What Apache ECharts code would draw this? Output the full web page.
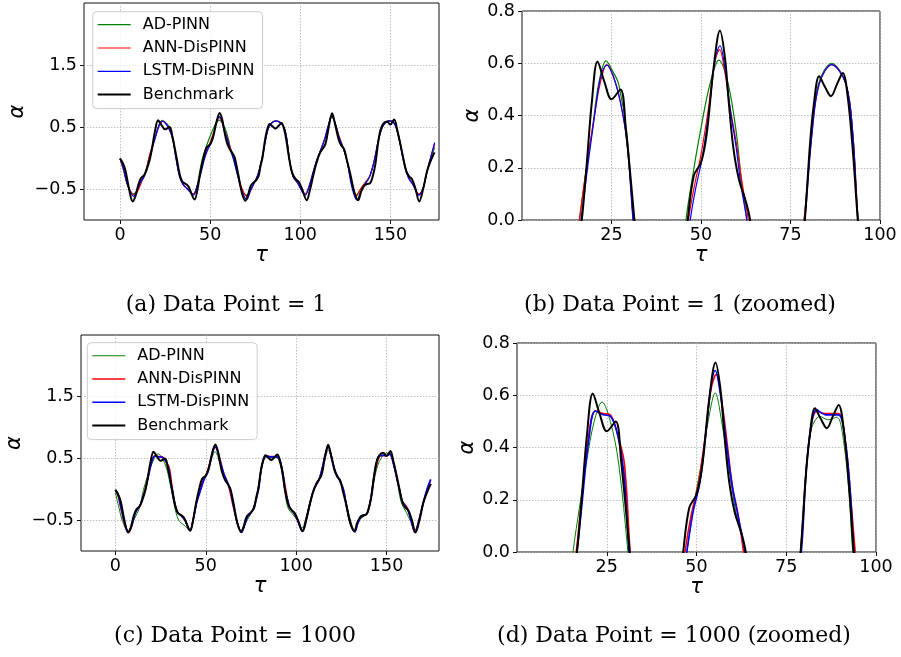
<!DOCTYPE html>
<html><head><meta charset="utf-8">
<script src="https://cdn.jsdelivr.net/npm/echarts@6/dist/echarts.min.js"></script>
<style>html,body{margin:0;padding:0;background:#fff}#c{width:901px;height:657px}</style>
</head><body><div id="c"></div>
<script>
const seriesNames = ['AD-PINN', 'ANN-DisPINN', 'LSTM-DisPINN', 'Benchmark'];
const captions = ['(a) Data Point = 1', '(b) Data Point = 1 (zoomed)', '(c) Data Point = 1000', '(d) Data Point = 1000 (zoomed)'];
const xTicksFull = [0, 50, 100, 150];
const yTicksFull = [-0.5, 0.5, 1.5];
const xTicksZoom = [25, 50, 75, 100];

// Benchmark (same reference solution in both rows)
const benchmark = [[0,-0.01],[1.5,-0.08],[3,-0.2],[5,-0.5],[7,-0.70],[8.5,-0.62],[10,-0.45],[11.5,-0.33],[13.5,-0.27],[15,-0.17],[16.7,0.0],[18,0.2],[19.5,0.45],[21.1,0.607],[23,0.53],[25,0.462],[27.5,0.50],[29,0.35],[31.4,0.0],[33,-0.25],[34.5,-0.38],[36.5,-0.42],[38,-0.46],[41.4,-0.67],[43,-0.50],[44.4,-0.26],[46.3,0.0],[48,0.17],[50,0.22],[51.6,0.33],[53.5,0.58],[55.3,0.725],[56.7,0.62],[57.7,0.46],[59,0.28],[60.6,0.155],[62.5,0.072],[63.7,0.0],[65.5,-0.25],[67.5,-0.55],[69.5,-0.69],[71,-0.6],[72.5,-0.45],[74,-0.40],[75.5,-0.36],[76.9,-0.29],[78,-0.12],[79,0.0],[80.5,0.3],[81.5,0.44],[83.0,0.55],[84.6,0.51],[86.3,0.474],[88,0.52],[89.6,0.563],[91,0.47],[92.5,0.25],[93.8,0.0],[95,-0.18],[96.3,-0.29],[97.8,-0.35],[99.1,-0.38],[101,-0.5],[103.6,-0.68],[105.5,-0.5],[107.4,-0.26],[109,-0.08],[111.1,0.09],[113.9,0.22],[115.8,0.5],[117.7,0.72],[119.3,0.55],[121.3,0.30],[122.8,0.2],[124.4,0.14],[126,-0.05],[127.8,-0.26],[130,-0.55],[132.2,-0.68],[133.7,-0.55],[135.4,-0.45],[137,-0.42],[138.7,-0.41],[140.2,-0.3],[141.7,-0.10],[143,0.2],[144.4,0.44],[146,0.55],[148.1,0.59],[150,0.54],[152.1,0.62],[153.8,0.45],[155.6,0.22],[157.3,-0.02],[158.9,-0.22],[160.5,-0.3],[162,-0.34],[164,-0.5],[166,-0.7],[168.2,-0.5],[170.4,-0.21],[172.5,-0.04],[174.5,0.09]];

// Data Point = 1
const adPinn1 = [[0,-0.01],[2,-0.2],[4,-0.42],[7.3,-0.58],[9.5,-0.52],[11.5,-0.4],[13.5,-0.28],[16.1,0],[17.8,0.18],[19.5,0.33],[21.4,0.52],[23.5,0.609],[25.3,0.57],[27,0.52],[29.3,0.33],[31.1,0],[33,-0.28],[35,-0.42],[37.5,-0.5],[40.5,-0.58],[42.5,-0.48],[44,-0.25],[45.8,0],[47.8,0.18],[49.7,0.33],[52.5,0.52],[55,0.612],[57.6,0.52],[59.9,0.33],[61.3,0.15],[62.8,0],[65,-0.25],[67.5,-0.5],[70.2,-0.6],[72.5,-0.5],[74.5,-0.4],[76.5,-0.27],[78.8,0],[80.9,0.33],[82.8,0.52],[86.5,0.6],[90.5,0.52],[92.4,0.33],[93.9,0],[96,-0.3],[98.5,-0.4],[102.8,-0.58],[105,-0.45],[107,-0.25],[109,-0.05],[111,0.1],[113.5,0.3],[115.5,0.5],[117.5,0.66],[119.5,0.55],[121.5,0.35],[124,0.15],[126,-0.05],[128.5,-0.4],[131,-0.6],[133.5,-0.5],[136,-0.4],[138.5,-0.3],[141,-0.05],[143.5,0.3],[146,0.52],[149.5,0.6],[152.5,0.55],[155,0.3],[157.5,-0.05],[160,-0.3],[162.5,-0.42],[165.8,-0.58],[168,-0.5],[170.5,-0.2],[172.5,0.0],[174.6,0.17]];
const annDis1 = [[0,-0.01],[2,-0.2],[4,-0.42],[6,-0.55],[8.3,-0.6],[10,-0.52],[11.5,-0.42],[13,-0.3],[14.5,-0.2],[16.0,0.0],[18,0.2],[20,0.38],[21.8,0.52],[23.7,0.595],[25.5,0.55],[27.5,0.45],[29.3,0.3],[31.1,0.0],[33,-0.28],[35,-0.43],[37.5,-0.5],[40.7,-0.58],[42.5,-0.48],[44.5,-0.25],[46.5,0.0],[48,0.12],[50,0.25],[52,0.42],[53.8,0.6],[55.2,0.652],[56.5,0.58],[58,0.44],[59.8,0.3],[61.4,0.15],[63.2,0.0],[65,-0.2],[67.5,-0.48],[70.4,-0.62],[72.5,-0.52],[74.5,-0.4],[76.5,-0.27],[78.8,0.0],[81,0.33],[83,0.52],[86.5,0.595],[90.5,0.52],[92.4,0.33],[93.9,0.0],[96,-0.3],[98.5,-0.4],[102.8,-0.58],[105,-0.45],[107,-0.25],[109,-0.05],[111,0.1],[113.5,0.3],[115.5,0.5],[117.5,0.67],[119.5,0.55],[121.5,0.35],[124,0.15],[126,-0.05],[128.5,-0.4],[131,-0.62],[133.5,-0.5],[136,-0.4],[138.5,-0.3],[141,-0.05],[143.5,0.3],[146,0.52],[149.5,0.6],[152.5,0.55],[155,0.3],[157.5,-0.05],[160,-0.3],[162.5,-0.42],[165.8,-0.58],[168,-0.5],[170.5,-0.2],[172.5,0.02],[174.6,0.23]];
const lstmDis1 = [[0,-0.01],[2,-0.18],[4,-0.42],[7.5,-0.62],[9.5,-0.52],[11.5,-0.38],[13.1,-0.32],[14.8,-0.18],[16.5,0],[18.5,0.22],[20.5,0.42],[22,0.55],[23.7,0.593],[25.5,0.55],[27.5,0.45],[29.3,0.3],[31,0],[33,-0.3],[35,-0.43],[37.5,-0.5],[40.7,-0.6],[42.5,-0.48],[44.8,-0.25],[47,0],[48.5,0.12],[50.5,0.25],[52.5,0.45],[54,0.62],[55.3,0.667],[56.7,0.58],[58.2,0.42],[59.8,0.28],[61.2,0.13],[62.8,0],[65,-0.25],[67.5,-0.52],[70.3,-0.67],[72.5,-0.52],[74.5,-0.4],[76.5,-0.27],[79,0],[81,0.33],[83,0.52],[86.5,0.595],[90.5,0.52],[92.4,0.33],[93.8,0],[96,-0.3],[98.5,-0.4],[102.8,-0.6],[105,-0.45],[107,-0.25],[109,-0.05],[111,0.1],[113.5,0.3],[115.5,0.52],[117.6,0.68],[119.5,0.55],[121.5,0.33],[124,0.15],[126,-0.05],[128.5,-0.45],[131.5,-0.68],[133.5,-0.55],[136,-0.42],[138.5,-0.3],[141,-0.05],[143.5,0.3],[146,0.52],[149.5,0.6],[152.5,0.54],[155,0.28],[157.5,-0.08],[160,-0.32],[162.5,-0.43],[165.8,-0.6],[168,-0.5],[170.5,-0.2],[172.5,0.02],[174.6,0.25]];

// Data Point = 1000
const adPinn2 = [[0,-0.05],[2,-0.3],[4,-0.52],[7,-0.68],[9,-0.58],[11,-0.45],[13,-0.33],[14.5,-0.15],[15.6,0],[17.5,0.18],[19.3,0.34],[21.5,0.5],[23.7,0.574],[26,0.5],[28.3,0.34],[30.9,0],[32.5,-0.25],[35,-0.5],[38,-0.58],[41,-0.66],[43,-0.5],[45,-0.2],[47.3,0],[49.5,0.2],[51.5,0.35],[53.5,0.52],[55.2,0.609],[57,0.5],[59,0.32],[61,0.15],[63.5,0],[65.5,-0.3],[67.5,-0.55],[69.8,-0.68],[72,-0.55],[74.5,-0.42],[76.5,-0.3],[79,0],[80.5,0.3],[82,0.47],[84.4,0.519],[86.7,0.506],[89.1,0.516],[91,0.42],[92.5,0.22],[93.5,0],[95.5,-0.3],[98.5,-0.42],[100.5,-0.5],[103.2,-0.63],[105.5,-0.45],[108,-0.15],[110.5,0.05],[113,0.2],[115.5,0.45],[117.8,0.63],[120,0.45],[122.5,0.22],[125,0.08],[127.5,-0.2],[130,-0.5],[132.3,-0.66],[134.5,-0.5],[137,-0.45],[139.5,-0.38],[141.5,-0.15],[143.5,0.2],[146,0.45],[150,0.59],[153,0.5],[155.5,0.2],[158,-0.2],[161,-0.38],[163,-0.5],[165.6,-0.66],[168,-0.5],[171,-0.15],[174.4,0.08]];
const annDis2 = [[0,-0.01],[1.5,-0.1],[3,-0.3],[5,-0.55],[7.3,-0.7],[9,-0.6],[10.5,-0.42],[12,-0.33],[13.5,-0.28],[15,-0.15],[16.5,0],[18,0.2],[20,0.45],[21.8,0.54],[24,0.53],[26,0.525],[28,0.45],[29.9,0.34],[31.5,0],[33,-0.25],[34.5,-0.38],[36.5,-0.43],[38.5,-0.5],[41.3,-0.66],[43,-0.5],[44.8,-0.22],[46.8,0],[48.5,0.14],[50.5,0.26],[52.5,0.45],[54,0.62],[55.5,0.68],[57,0.58],[58.5,0.42],[60,0.25],[61.5,0.15],[63.1,0],[65,-0.25],[67.5,-0.55],[69.6,-0.68],[71.5,-0.57],[73,-0.44],[74.5,-0.4],[76.5,-0.3],[79,0],[81,0.38],[83.5,0.539],[86,0.53],[89.5,0.53],[91.5,0.42],[93,0.2],[94.2,0],[95.5,-0.2],[96.5,-0.3],[98.7,-0.38],[100.5,-0.48],[103.4,-0.67],[105.5,-0.5],[107.5,-0.25],[109.8,0.0],[112.6,0.15],[114.5,0.35],[116,0.55],[117.8,0.68],[119.5,0.52],[121.5,0.3],[123.6,0.17],[126.1,0.0],[128,-0.3],[130,-0.55],[132.3,-0.68],[134,-0.55],[135.9,-0.44],[137.5,-0.42],[139.2,-0.4],[141,-0.2],[143,0.18],[145.8,0.52],[148,0.55],[150,0.54],[151.9,0.58],[153.5,0.45],[155.5,0.2],[157.5,-0.05],[158.7,-0.19],[161.5,-0.3],[163.5,-0.48],[165.6,-0.7],[167.5,-0.55],[170,-0.25],[172,-0.05],[174.4,0.15]];
const lstmDis2 = [[0,-0.01],[1.5,-0.08],[3,-0.28],[5,-0.53],[7.3,-0.69],[9,-0.6],[10.5,-0.43],[12,-0.33],[13.5,-0.27],[15,-0.15],[16.7,0],[18,0.17],[20,0.43],[21.8,0.54],[24,0.525],[26,0.52],[28,0.45],[29.8,0.3],[31.2,0],[33,-0.25],[34.5,-0.38],[36.5,-0.43],[38.5,-0.5],[41.3,-0.67],[43,-0.5],[45,-0.22],[47.3,0],[49,0.15],[51,0.27],[52.8,0.48],[54,0.63],[55.2,0.695],[56.7,0.6],[58.3,0.42],[60,0.25],[61.7,0.13],[63.5,0],[65,-0.22],[67.5,-0.55],[69.8,-0.7],[71.5,-0.58],[73,-0.45],[74.5,-0.4],[76.5,-0.3],[79.2,0],[81,0.38],[83.5,0.545],[86,0.525],[89.5,0.525],[91.5,0.42],[93,0.2],[93.8,0],[95.5,-0.2],[96.5,-0.3],[98.7,-0.38],[100.5,-0.48],[103.4,-0.68],[105.5,-0.5],[107.5,-0.25],[109.8,0.0],[112.6,0.15],[114.5,0.35],[116,0.55],[117.8,0.69],[119.5,0.53],[121.5,0.3],[123.6,0.17],[126.1,0.0],[128,-0.3],[130,-0.56],[132.5,-0.69],[134,-0.56],[135.9,-0.45],[137.5,-0.42],[139.2,-0.39],[141,-0.2],[143,0.2],[145.5,0.53],[148,0.55],[150,0.55],[151.9,0.57],[153.5,0.45],[155.5,0.2],[157.5,-0.05],[158.7,-0.2],[161.5,-0.32],[163.5,-0.5],[165.8,-0.7],[167.5,-0.55],[170,-0.25],[172,-0.03],[174.4,0.16]];

const colors = ['#008000', '#ff0000', '#0000ff', '#000000'];
const widths1 = [1.2, 1.2, 1.2, 2];
const widths2 = [1, 1.6, 1.6, 2];
const rowData = [[adPinn1, annDis1, lstmDis1, benchmark], [adPinn2, annDis2, lstmDis2, benchmark]];

const FONT = 'DejaVu Sans';
const fmt = v => (v < 0 ? '\u2212' + Math.abs(v).toFixed(1) : v.toFixed(1));
const fmtInt = v => String(Math.round(v));

const grids = [
  {left: 84, top: 3, width: 355, height: 217},
  {left: 522, top: 11, width: 358, height: 209},
  {left: 81, top: 335, width: 358, height: 216},
  {left: 517, top: 343, width: 359, height: 209}
].map(g => Object.assign(g, {show: true, borderColor: '#111', borderWidth: 1, backgroundColor: 'transparent'}));

const splitLine = {show: true, lineStyle: {color: '#b0b0b0', width: 0.8, type: [1.5, 1.5]}};
const tick = {show: true, inside: false, length: 4, lineStyle: {color: '#111'}};
const axisLabelBase = {color: '#000', fontFamily: FONT, fontSize: 17.5};
const nameStyle = {fontFamily: FONT, fontStyle: 'italic', fontSize: 21, color: '#000'};

const xAxes = [], yAxes = [];
[0, 1, 2, 3].forEach(i => {
  const zoom = i % 2 === 1;
  const top = i < 2;
  xAxes.push({
    type: 'value', gridIndex: i,
    min: zoom ? 0 : (top ? -20 : -19), max: zoom ? 100 : (top ? 177 : 179),
    axisLine: {show: false, onZero: false},
    axisTick: Object.assign({}, tick, {customValues: zoom ? xTicksZoom : xTicksFull}),
    axisLabel: Object.assign({}, axisLabelBase, {customValues: zoom ? xTicksZoom : xTicksFull, formatter: fmtInt, margin: 6}),
    splitLine: splitLine,
    name: '\u03c4', nameLocation: 'middle', nameGap: 24, nameTextStyle: nameStyle
  });
  const yAx = {
    type: 'value', gridIndex: i,
    axisLine: {show: false, onZero: false},
    splitLine: splitLine,
    name: '\u03b1', nameLocation: 'middle', nameRotate: 90,
    nameGap: zoom ? 33 : 56, nameTextStyle: nameStyle
  };
  if (zoom) {
    Object.assign(yAx, {min: 0, max: 0.8, interval: 0.2,
      axisTick: tick,
      axisLabel: Object.assign({}, axisLabelBase, {formatter: fmt, margin: 7})});
  } else {
    Object.assign(yAx, {min: -1, max: 2.5,
      axisTick: Object.assign({}, tick, {customValues: yTicksFull}),
      axisLabel: Object.assign({}, axisLabelBase, {customValues: yTicksFull, formatter: fmt, margin: 7})});
  }
  yAxes.push(yAx);
});

const series = [];
[0, 1, 2, 3].forEach(i => {
  const row = i < 2 ? 0 : 1;
  const widths = row === 0 ? widths1 : widths2;
  seriesNames.forEach((nm, k) => {
    series.push({
      name: nm, type: 'line', xAxisIndex: i, yAxisIndex: i,
      data: rowData[row][k], symbol: 'none', showSymbol: false, smooth: 0.35, clip: true,
      lineStyle: {color: colors[k], width: widths[k]}, itemStyle: {color: colors[k]},
      z: 2 + k, animation: false
    });
  });
});

function legendFor(left, top, widths) {
  return {
    show: true, orient: 'vertical', left: left, top: top,
    backgroundColor: 'rgba(255,255,255,0.8)', borderColor: '#cccccc', borderWidth: 1, borderRadius: 4,
    padding: [4, 8, 5, 5], itemWidth: 33, itemHeight: 14, itemGap: 5.3, symbolKeepAspect: true,
    textStyle: {fontFamily: FONT, fontSize: 16, color: '#000', lineHeight: 18, padding: [0, 0, 0, 7]},
    data: seriesNames.map((n, k) => ({
      name: n,
      icon: 'path://M0,0H33V' + widths[k] + 'H0Z',
      itemStyle: {color: colors[k], borderWidth: 0}
    })),
    selectedMode: false, z: 10
  };
}

const captionPos = [[226, 305], [680, 305], [235, 636], [674, 636]];
const graphic = captions.map((t, i) => ({
  type: 'text', x: captionPos[i][0], y: captionPos[i][1],
  style: {text: t, font: '22px "DejaVu Serif"', fill: '#000', textAlign: 'center', textVerticalAlign: 'middle'}
}));

const chart = echarts.init(document.getElementById('c'), null, {renderer: 'canvas'});
chart.setOption({
  animation: false,
  grid: grids, xAxis: xAxes, yAxis: yAxes, series: series,
  legend: [legendFor(92.7, 11.7, widths1), legendFor(87.3, 342.7, widths2)],
  graphic: graphic
});
</script></body></html>
